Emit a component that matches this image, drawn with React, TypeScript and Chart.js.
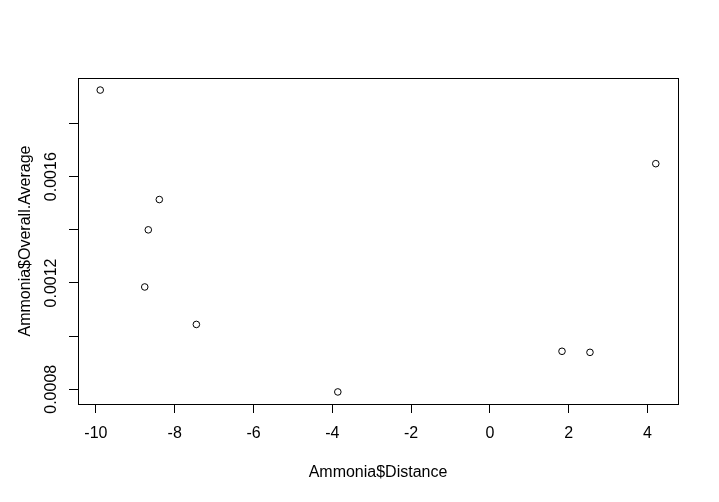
import React, { useEffect, useRef } from "react";
import { Chart, registerables } from "chart.js";

Chart.register(...registerables);

const distance = [-9.89, -8.39, -8.67, -8.76, -7.45, -3.86, 1.83, 2.54, 4.21];
const overallAverage = [0.001926, 0.001514, 0.0014, 0.001185, 0.001044, 0.00079, 0.000943, 0.000939, 0.001649];

const xTickValues = [-10, -8, -6, -4, -2, 0, 2, 4];
const xTickLabels = ["-10", "-8", "-6", "-4", "-2", "0", "2", "4"];
const yTickValues = [0.0008, 0.001, 0.0012, 0.0014, 0.0016, 0.0018];
const yTickLabels = ["0.0008", "", "0.0012", "", "0.0016", ""];

const xMin = -10.454;
const xMax = 4.774;
const yMin = 0.0007446;
const yMax = 0.0019714;

const xTitle = "Ammonia$Distance";
const yTitle = "Ammonia$Overall.Average";

const FONT = "'Liberation Sans', Arial, sans-serif";

const boxPlugin = {
  id: "rbox",
  afterDraw(chart: any) {
    const { ctx, chartArea } = chart;
    ctx.save();
    ctx.strokeStyle = "#000";
    ctx.lineWidth = 1;
    ctx.strokeRect(
      chartArea.left + 0.5,
      chartArea.top + 0.5,
      chartArea.right - chartArea.left,
      chartArea.bottom - chartArea.top
    );
    ctx.restore();
  },
};

export default function App() {
  const ref = useRef<HTMLCanvasElement | null>(null);

  useEffect(() => {
    if (!ref.current) return;
    const chart = new Chart(ref.current, {
      type: "scatter",
      data: {
        datasets: [
          {
            data: distance.map((x, i) => ({ x, y: overallAverage[i] })),
            pointStyle: "circle",
            pointRadius: 3.3,
            pointHoverRadius: 3.3,
            borderColor: "#000",
            backgroundColor: "rgba(0,0,0,0)",
            borderWidth: 1,
          },
        ],
      },
      options: {
        animation: false,
        responsive: false,
        devicePixelRatio: 1,
        events: [],
        layout: { padding: { top: 78, right: 41, left: 0, bottom: 0 } },
        plugins: {
          legend: { display: false },
          tooltip: { enabled: false },
        },
        scales: {
          x: {
            type: "linear",
            min: xMin,
            max: xMax,
            afterBuildTicks: (scale: any) => {
              scale.ticks = xTickValues.map((v) => ({ value: v }));
            },
            afterFit: (scale: any) => {
              scale.height = 98;
            },
            border: { display: false },
            grid: {
              display: true,
              drawOnChartArea: false,
              drawTicks: true,
              tickLength: 9,
              color: "#000",
              lineWidth: 1,
            },
            ticks: {
              autoSkip: false,
              maxRotation: 0,
              minRotation: 0,
              padding: 11,
              color: "#000",
              font: { family: FONT, size: 16 },
              callback: (v: any) => {
                const i = xTickValues.findIndex((t) => Math.abs(t - v) < 1e-9);
                return i >= 0 ? xTickLabels[i] : "";
              },
            },
            title: {
              display: true,
              text: xTitle,
              color: "#000",
              font: { family: FONT, size: 16 },
              padding: { top: 0, bottom: 20 },
            },
          },
          y: {
            type: "linear",
            min: yMin,
            max: yMax,
            afterBuildTicks: (scale: any) => {
              scale.ticks = yTickValues.map((v) => ({ value: v }));
            },
            afterFit: (scale: any) => {
              scale.width = 78;
            },
            border: { display: false },
            grid: {
              display: true,
              drawOnChartArea: false,
              drawTicks: true,
              tickLength: 9,
              color: "#000",
              lineWidth: 1,
            },
            ticks: {
              autoSkip: false,
              minRotation: 90,
              maxRotation: 90,
              crossAlign: "center",
              padding: -7.5,
              color: "#000",
              font: { family: FONT, size: 16 },
              callback: (v: any) => {
                const i = yTickValues.findIndex((t) => Math.abs(t - v) < 1e-12);
                return i >= 0 ? yTickLabels[i] : "";
              },
            },
            title: {
              display: true,
              text: yTitle,
              color: "#000",
              font: { family: FONT, size: 16 },
              padding: { top: 16, bottom: 0 },
            },
          },
        },
      },
      plugins: [boxPlugin],
    } as any);
    return () => chart.destroy();
  }, []);

  return (
    <div style={{ position: "absolute", left: 0, top: 0, width: 719, height: 502, background: "#fff" }}>
      <canvas ref={ref} width={719} height={502} style={{ display: "block" }} />
    </div>
  );
}
